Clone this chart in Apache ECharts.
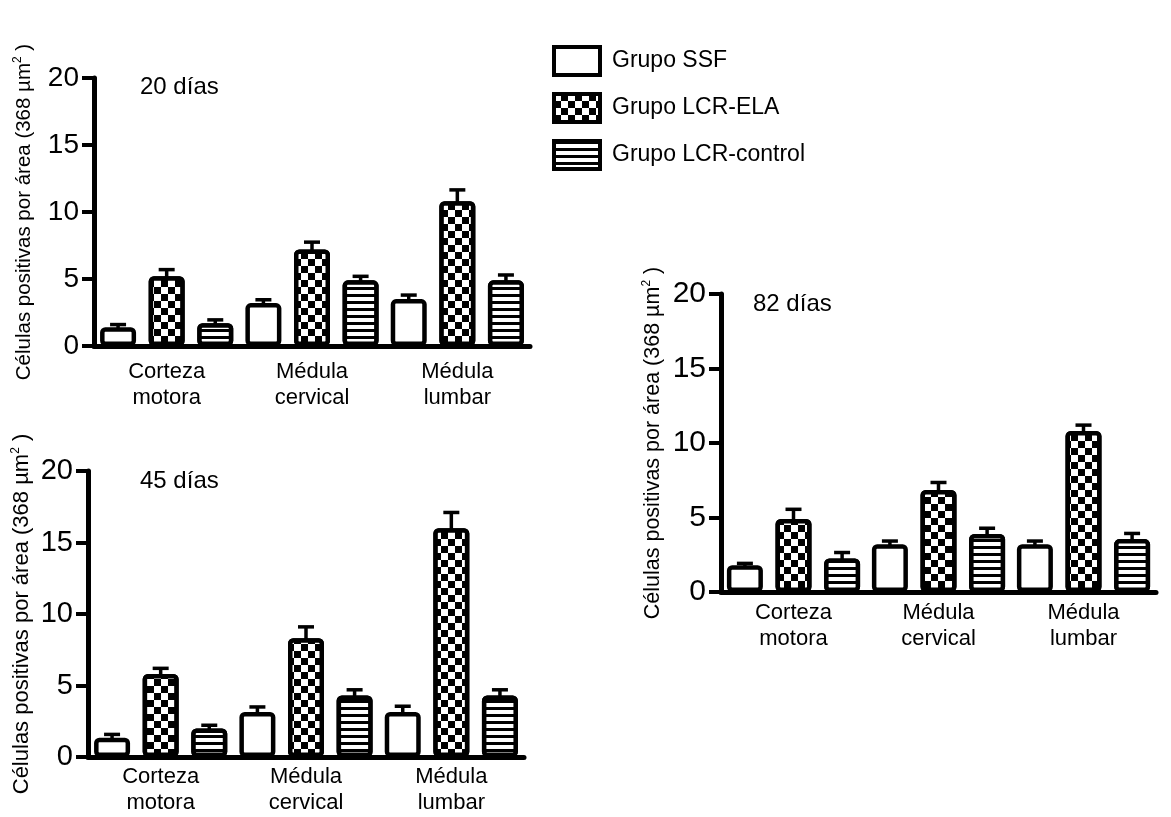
<!DOCTYPE html>
<html>
<head>
<meta charset="utf-8">
<script src="https://cdn.jsdelivr.net/npm/echarts@6/dist/echarts.min.js"></script>
<style>
html,body{margin:0;padding:0;background:#fff;}
#chart{width:1171px;height:817px;}
</style>
</head>
<body>
<div id="chart"></div>
<script>
// ---------- DATA ----------
const categories = ['Corteza\nmotora', 'Médula\ncervical', 'Médula\nlumbar'];
const groupNames = ['Grupo SSF', 'Grupo LCR-ELA', 'Grupo LCR-control'];
const panelTitles = ['20 días', '45 días', '82 días'];
const yTicks = [0, 5, 10, 15, 20];

// 20 días
const ssf20 = [1.4, 3.2, 3.5];
const ela20 = [5.2, 7.2, 10.8];
const ctl20 = [1.7, 4.9, 4.9];
const ssf20Err = [0.2, 0.25, 0.3];
const ela20Err = [0.5, 0.55, 0.85];
const ctl20Err = [0.25, 0.3, 0.4];

// 45 días
const ssf45 = [1.35, 3.15, 3.15];
const ela45 = [5.8, 8.3, 16.0];
const ctl45 = [2.0, 4.3, 4.3];
const ssf45Err = [0.23, 0.35, 0.4];
const ela45Err = [0.4, 0.8, 1.1];
const ctl45Err = [0.22, 0.4, 0.4];

// 82 días
const ssf82 = [1.8, 3.2, 3.2];
const ela82 = [4.9, 6.85, 10.8];
const ctl82 = [2.25, 3.9, 3.55];
const ssf82Err = [0.12, 0.22, 0.22];
const ela82Err = [0.65, 0.5, 0.4];
const ctl82Err = [0.4, 0.38, 0.38];

// ---------- STYLE ----------
const FONT = "'Liberation Sans', Arial, sans-serif";
const BAR_W = 36;
const BAR_GAP = 0.35;
const PITCH = BAR_W * (1 + BAR_GAP);

const styles = [
  { color: '#fff', borderColor: '#000', borderWidth: 4.5, borderRadius: 3 },
  { color: '#fff', borderColor: '#000', borderWidth: 4.5, borderRadius: 3,
    decal: { symbol: 'rect', symbolSize: 1, color: '#000', backgroundColor: '#fff',
             dashArrayX: [[7, 7], [0, 7, 7, 0]], dashArrayY: [7, 0], rotation: 0 } },
  { color: '#fff', borderColor: '#000', borderWidth: 4.5, borderRadius: 3,
    decal: { symbol: 'rect', symbolSize: 1, color: '#000', backgroundColor: '#fff',
             dashArrayX: [10, 0], dashArrayY: [3, 4], rotation: 0 } }
];

const panels = [
  { vals: [ssf20, ela20, ctl20], errs: [ssf20Err, ela20Err, ctl20Err],
    grid: { left: 94, top: 78, width: 436, height: 268 }, tickFont: 28, nameFont: 20.5, nameGap: 58, labelMargin: 13,
    title: { left: 140, top: 75 } },
  { vals: [ssf45, ela45, ctl45], errs: [ssf45Err, ela45Err, ctl45Err],
    grid: { left: 88, top: 471, width: 436, height: 286 }, tickFont: 29, nameFont: 22, nameGap: 54, labelMargin: 7,
    title: { left: 140, top: 469 } },
  { vals: [ssf82, ela82, ctl82], errs: [ssf82Err, ela82Err, ctl82Err],
    grid: { left: 721, top: 294, width: 435, height: 298 }, tickFont: 30, nameFont: 21.5, nameGap: 56, labelMargin: 8,
    title: { left: 753, top: 292 } }
];

const grids = [], xAxes = [], yAxes = [], series = [], titles = [];
panels.forEach((p, gi) => {
  grids.push(Object.assign({ containLabel: false }, p.grid));
  titles.push({ text: panelTitles[gi], left: p.title.left, top: p.title.top, padding: 0,
    textStyle: { fontFamily: FONT, fontSize: 24, fontWeight: 'normal', color: '#000' } });
  xAxes.push({
    type: 'category', gridIndex: gi, data: categories,
    axisLine: { lineStyle: { color: '#000', width: 5 } },
    axisTick: { show: false },
    axisLabel: { color: '#000', fontFamily: FONT, fontSize: 22, lineHeight: 26, margin: p.labelMargin, interval: 0 }
  });
  yAxes.push({
    type: 'value', gridIndex: gi, min: yTicks[0], max: yTicks[yTicks.length - 1], interval: 5,
    splitLine: { show: false },
    axisLine: { show: true, lineStyle: { color: '#000', width: 5 } },
    axisTick: { show: true, length: 12, lineStyle: { color: '#000', width: 4 } },
    axisLabel: { color: '#000', fontFamily: FONT, fontSize: p.tickFont, margin: 15 },
    name: '{a|Células positivas por área (368 µm}{s|2}{a| )}',
    nameLocation: 'middle', nameGap: p.nameGap, nameRotate: 90,
    nameTextStyle: { fontFamily: FONT, color: '#000',
      rich: { a: { fontFamily: FONT, fontSize: p.nameFont, color: '#000', lineHeight: 24 },
              s: { fontFamily: FONT, fontSize: 12, color: '#000', lineHeight: 24, verticalAlign: 'top', padding: [0, 0, 10, 0] } } }
  });
  p.vals.forEach((arr, si) => {
    series.push({
      type: 'bar', name: groupNames[si], xAxisIndex: gi, yAxisIndex: gi,
      data: arr, barWidth: BAR_W, barGap: (BAR_GAP * 100) + '%',
      itemStyle: styles[si], emphasis: { disabled: true }, z: 2
    });
  });
  const errData = [];
  for (let c = 0; c < categories.length; c++) {
    for (let s = 0; s < 3; s++) errData.push([c, p.vals[s][c], p.errs[s][c], s]);
  }
  series.push({
    type: 'custom', xAxisIndex: gi, yAxisIndex: gi, data: errData, z: 5,
    encode: { x: 0, y: 1 }, silent: true,
    renderItem: function (params, api) {
      const c = api.value(0), v = api.value(1), e = api.value(2), s = api.value(3);
      const base = api.coord([c, v]);
      const top = api.coord([c, v + e]);
      const x = base[0] + (s - 1) * PITCH;
      const st = { stroke: '#000', lineWidth: 3.5, fill: null };
      return { type: 'group', children: [
        { type: 'line', shape: { x1: x, y1: base[1] + 2, x2: x, y2: top[1] }, style: st },
        { type: 'line', shape: { x1: x - 8, y1: top[1], x2: x + 8, y2: top[1] }, style: st }
      ] };
    }
  });
});

const chart = echarts.init(document.getElementById('chart'), null, { renderer: 'canvas' });
chart.setOption({
  animation: false,
  backgroundColor: '#fff',
  title: titles,
  legend: {
    data: groupNames, orient: 'vertical', left: 552, top: 45, padding: 0,
    itemWidth: 46, itemHeight: 28, itemGap: 15,
    icon: 'rect',
    itemStyle: { borderColor: '#000', borderWidth: 4 },
    textStyle: { fontFamily: FONT, fontSize: 23, color: '#000', padding: [0, 0, 0, 7] },
    selectedMode: false
  },
  grid: grids, xAxis: xAxes, yAxis: yAxes, series: series
});
</script>
</body>
</html>
